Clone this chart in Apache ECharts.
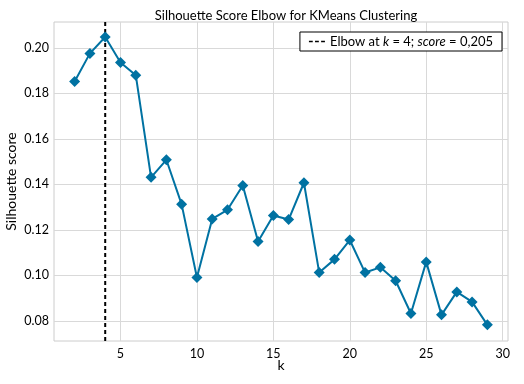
<!DOCTYPE html>
<html><head><meta charset="utf-8">
<script src="https://cdn.jsdelivr.net/npm/echarts@6/dist/echarts.min.js"></script>
<style>html,body{margin:0;padding:0;background:#fff}#c{width:524px;height:384px}</style>
</head><body><div id="c"></div>
<script>
const kValues = [2,3,4,5,6,7,8,9,10,11,12,13,14,15,16,17,18,19,20,21,22,23,24,25,26,27,28,29];
const scores = [0.1852,0.1976,0.2048,0.1936,0.1880,0.1431,0.1508,0.1312,0.0990,0.1248,0.1288,0.1395,0.1149,0.1263,0.1245,0.1407,0.1012,0.1070,0.1155,0.1012,0.1035,0.0976,0.0832,0.1059,0.0826,0.0927,0.0883,0.0782];
const elbowK = 4;
const elbowLabel = '0,205';
const xTicks = [5,10,15,20,25,30];
const yTicks = [0.08,0.10,0.12,0.14,0.16,0.18,0.20];
const xMin = 0.65, xMax = 30.35, yMin = 0.0711, yMax = 0.2114;

const FONT = 'Lato';
const chart = echarts.init(document.getElementById('c'), null, {renderer:'canvas'});
chart.setOption({
  animation:false,
  backgroundColor:'#fff',
  textStyle:{fontFamily:FONT},
  title:{text:'Silhouette Score Elbow for KMeans Clustering', left:281, top:4, textAlign:'center',
    textStyle:{fontFamily:FONT, fontSize:13, fontWeight:'normal', color:'#000'}},
  grid:{left:54, right:16, top:22, bottom:43, show:true, borderColor:'#cccccc', borderWidth:1,
    containLabel:false, outerBoundsMode:'none'},
  legend:{
    data:[{name:'elbow', icon:'path://M0,0h5v2h-5z M8,0h5v2h-5z M16,0h5v2h-5z'}], right:22, top:32, orient:'horizontal',
    backgroundColor:'#fff', borderColor:'#000', borderWidth:1, borderRadius:0,
    padding:[3,9,3,9], itemWidth:16, itemHeight:2, itemGap:6,
    itemStyle:{color:'#000'},
    formatter:()=> '{n|Elbow at }{i|k}{n| = '+elbowK+'; }{i|score}{n| = '+elbowLabel+'}',
    textStyle:{fontFamily:FONT, fontSize:13, color:'#000',
      rich:{n:{fontFamily:FONT,fontSize:13,color:'#000'}, i:{fontFamily:FONT,fontSize:13,fontStyle:'italic',color:'#000'}}}
  },
  xAxis:{type:'value', min:xMin, max:xMax, name:'k', nameLocation:'middle', nameGap:17, nameMoveOverlap:false,
    nameTextStyle:{fontFamily:FONT, fontSize:14, color:'#000'},
    axisLine:{show:false}, axisTick:{show:false, customValues:xTicks},
    axisLabel:{customValues:xTicks, fontFamily:FONT, fontSize:12.5, color:'#000', margin:6},
    splitLine:{show:true, lineStyle:{color:'#d9d9d9', width:1}}},
  yAxis:{type:'value', min:yMin, max:yMax, name:'Silhouette score', nameLocation:'middle', nameGap:36, nameMoveOverlap:false,
    nameTextStyle:{fontFamily:FONT, fontSize:14, color:'#000'},
    axisLine:{show:false}, axisTick:{show:false, customValues:yTicks},
    axisLabel:{customValues:yTicks, fontFamily:FONT, fontSize:12.5, color:'#000', margin:5,
      formatter:v=>v.toFixed(2)},
    splitLine:{show:true, lineStyle:{color:'#d9d9d9', width:1}}},
  series:[
    {name:'elbow', type:'line', data:[[elbowK,yMin],[elbowK,yMax]], symbol:'none',
      lineStyle:{color:'#000', width:2, type:[4,3]}, itemStyle:{color:'#000'}, z:3},
    {name:'score', type:'line', data:kValues.map((k,i)=>[k,scores[i]]),
      symbol:'diamond', symbolSize:11, lineStyle:{color:'#0072a2', width:2},
      itemStyle:{color:'#0072a2'}, z:4}
  ]
});
</script></body></html>
